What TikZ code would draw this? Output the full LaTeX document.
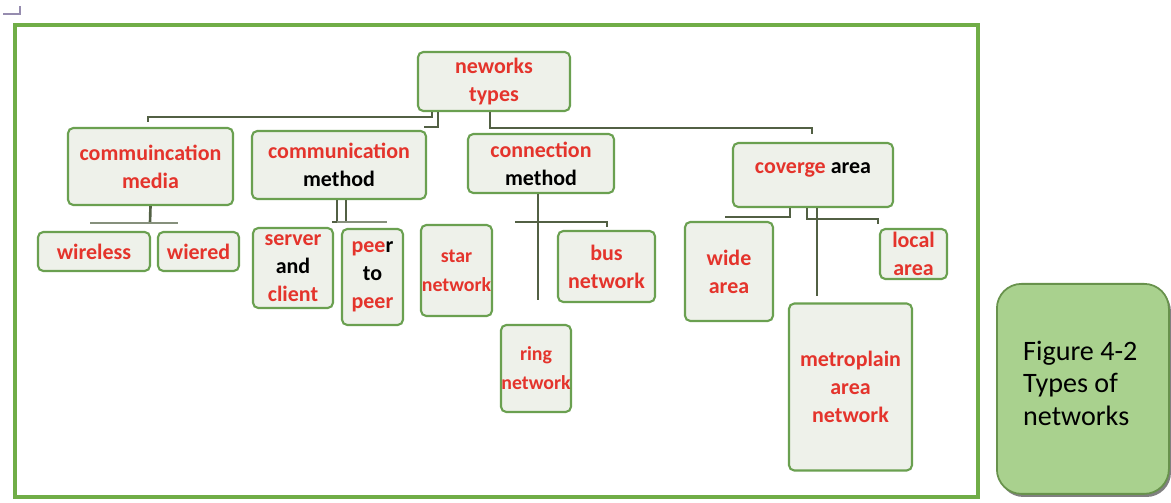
\documentclass[tikz,border=0pt]{standalone}
\usepackage{fontspec}
\setmainfont{Carlito}
\definecolor{framegreen}{RGB}{112,173,71}
\definecolor{boxborder}{RGB}{106,160,80}
\definecolor{boxfill}{RGB}{238,241,234}
\definecolor{txtred}{RGB}{228,52,44}
\definecolor{linkcol}{RGB}{82,96,68}
\definecolor{figfill}{RGB}{169,209,142}
\definecolor{figborder}{RGB}{104,146,76}
\definecolor{markcol}{RGB}{150,140,175}
\tikzset{
  box/.style={draw=boxborder, fill=boxfill, line width=1.2pt, rounded corners=3pt,
    align=center, text=txtred, inner sep=0pt,
    font=\bfseries\fontsize{12.5}{16}\selectfont},
  smalltext/.style={font=\bfseries\fontsize{11.3}{16.5}\selectfont},
  sz/.style 2 args={minimum width=#1*0.02cm, minimum height=#2*0.02cm},
  link/.style={draw=linkcol, line width=1.5pt},
  thinlink/.style={draw=linkcol!70, line width=1.2pt},
}
\newcommand{\blk}[1]{\textcolor{black}{#1}}
\begin{document}
\begin{tikzpicture}[x=0.02cm, y=-0.02cm]
\useasboundingbox (0,0) rectangle (1171,503);
\fill[white] (0,0) rectangle (1171,503);

% small corner mark
\draw[markcol, line width=1.1pt] (3,14) -- (20,14) -- (20,6);

% outer frame
\draw[framegreen, line width=2.3pt] (15,25) rectangle (978,497);

% caption box with its shadow
\fill[black!50, rounded corners=14pt] (999,287) rectangle (1171,497);
\node[draw=figborder, fill=figfill, line width=1pt, rounded corners=14pt,
      sz={172}{210}, anchor=north west, inner sep=0pt] (fig) at (996,283) {};
\node[anchor=west, align=left, font=\fontsize{16}{18.5}\selectfont] (figtxt) at (1017,383)
  {Figure 4-2\\Types of\\networks};

% boxes
\node[box, sz={152}{59}] (root)   at (494,81.5)  {neworks\\types};
\node[box, sz={165}{77}] (media)  at (150.5,166.5) {commuincation\\media};
\node[box, sz={174}{68}] (cmeth)  at (339,165)   {communication\\\blk{method}};
\node[box, sz={146}{59}] (conn)   at (541,163.5) {connection\\\blk{method}};
\node[box, sz={160}{64}] (cover)  at (813,175)   {};
\node[font=\bfseries\fontsize{12.5}{16}\selectfont, text=txtred] (covertxt) at (813,170) {coverge \blk{area}};
\node[box, sz={112}{39}] (wless)  at (94,251.5)  {wireless};
\node[box, sz={81}{39}]  (wired)  at (198.5,251.5) {wiered};
\node[box, sz={80}{80}]  (server) at (293,268)   {server\\\blk{and}\\client};
\node[box, sz={61}{96}]  (peer)   at (372.5,277) {pee\blk{r}\\\blk{to}\\peer};
\node[box, smalltext, sz={71}{91}]  (star)   at (456.5,270.5) {star\\network};
\node[box, smalltext, sz={70}{87}]  (ring)   at (536,368.5) {ring\\network};
\node[box, sz={97}{71}]  (bus)    at (606.5,266.5) {bus\\network};
\node[box, sz={88}{99}]  (wide)   at (729,271.5) {wide\\area};
\node[box, sz={123}{167}] (metro) at (850.5,387) {metroplain\\area\\network};
\node[box, sz={67}{50}]  (local)  at (913.5,254) {local\\area};

% junction points
\coordinate (a1) at (432,117); \coordinate (a2) at (148,117); \coordinate (a3) at (148,122);
\coordinate (b1) at (438,127); \coordinate (b2) at (424,127);
\coordinate (c1) at (490,128); \coordinate (c2) at (812,128); \coordinate (c3) at (812,134);
\coordinate (d1) at (150,223); \coordinate (dL) at (90,223); \coordinate (dR) at (178,223);
\coordinate (e1) at (337,222); \coordinate (e2) at (346,222); \coordinate (eL) at (332,222); \coordinate (eR) at (387,222);
\coordinate (f1) at (538,300); \coordinate (fL) at (515,222); \coordinate (fR) at (607,222); \coordinate (fT) at (607,227);
\coordinate (g1) at (790,217); \coordinate (g2) at (725,217);
\coordinate (h1) at (807,219); \coordinate (h2) at (878,219); \coordinate (h3) at (878,224);
\coordinate (k1) at (817,296);

% connectors from the root
\draw[link] (root.south -| a1) -- (a1) -- (a2) -- (a3);
\draw[link] (root.south -| b1) -- (b1) -- (b2);
\draw[link] (root.south -| c1) -- (c1) -- (c2) -- (c3);

% connectors below the second row
\draw[link] (media.south) -- (d1);
\draw[thinlink] (dL) -- (dR);
\draw[link] (cmeth.south -| e1) -- (e1) -- (eL);
\draw[link] (cmeth.south -| e2) -- (e2);
\draw[thinlink] (e1) -- (eR);
\draw[link] (conn.south -| f1) -- (f1);
\draw[link] (fL) -- (fR) -- (fT);
\draw[link] (cover.south -| g1) -- (g1) -- (g2);
\draw[link] (cover.south -| h1) -- (h1) -- (h2) -- (h3);
\draw[link] (cover.south -| k1) -- (k1);
\end{tikzpicture}
\end{document}
